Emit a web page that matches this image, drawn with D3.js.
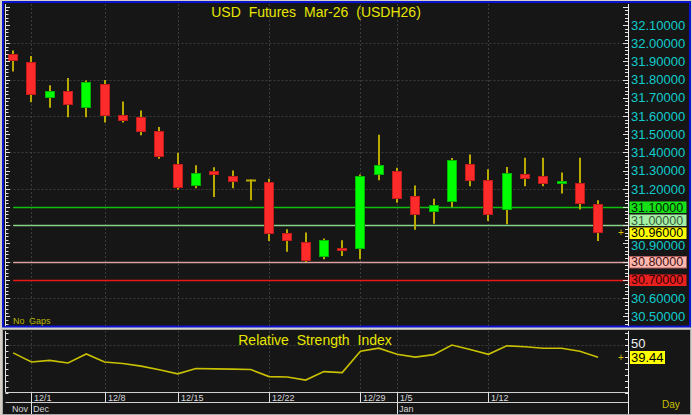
<!DOCTYPE html>
<html><head><meta charset="utf-8">
<script src="https://cdn.jsdelivr.net/npm/d3@7/dist/d3.min.js"></script>
<style>
html,body{margin:0;padding:0;background:#d4d0c8;}
svg{display:block;font-family:"Liberation Sans",Arial,sans-serif;}
</style></head><body>
<svg id="c" width="692" height="415"></svg>
<script>
// ---- data ----
const dates = ["11/28","12/1","12/2","12/3","12/4","12/8","12/9","12/10","12/11","12/15","12/16","12/17","12/18","12/19","12/22","12/23","12/24","12/26","12/27","12/29","12/30","1/5","1/6","1/7","1/8","1/9","1/12","1/13","1/14","1/15","1/16","1/19","1/20"];
const opens  = [31.941,31.899,31.703,31.740,31.645,31.778,31.608,31.597,31.519,31.338,31.215,31.298,31.268,31.250,31.237,30.960,30.908,30.826,30.878,30.865,31.274,31.298,31.159,31.073,31.124,31.338,31.247,31.086,31.279,31.270,31.225,31.230,31.119];
const highs  = [31.959,31.930,31.769,31.809,31.795,31.798,31.679,31.630,31.539,31.398,31.329,31.319,31.301,31.252,31.256,30.978,30.960,30.927,30.918,31.279,31.497,31.316,31.219,31.146,31.369,31.389,31.307,31.320,31.371,31.371,31.290,31.371,31.137];
const lows   = [31.844,31.676,31.645,31.593,31.593,31.564,31.564,31.495,31.365,31.196,31.204,31.155,31.204,31.137,30.914,30.854,30.799,30.814,30.832,30.814,31.247,31.124,30.976,31.009,31.100,31.215,31.024,31.005,31.215,31.215,31.174,31.086,30.914];
const closes = [31.904,31.716,31.740,31.665,31.789,31.604,31.574,31.515,31.376,31.204,31.289,31.276,31.236,31.250,30.954,30.914,30.803,30.918,30.865,31.268,31.329,31.146,31.055,31.110,31.356,31.245,31.055,31.289,31.254,31.226,31.241,31.115,30.960];
const rsi    = [43.2,35.5,36.9,34.7,42.3,35.5,34.3,32.1,29.0,25.6,30.1,29.8,29.6,29.2,23.3,23.0,20.4,27.5,26.7,44.5,47.1,42.0,39.6,41.7,49.7,46.0,42.0,49.1,48.3,47.1,47.1,44.5,39.44];
const weekTicks = ["12/1","12/8","12/15","12/22","12/29","1/5","1/12"];
const monthStarts = [{date:"11/28",label:"Nov"},{date:"12/1",label:"Dec"},{date:"1/5",label:"Jan"}];
const priceTicks = [30.5,30.6,30.7,30.8,30.9,31.0,31.1,31.2,31.3,31.4,31.5,31.6,31.7,31.8,31.9,32.0,32.1];
const priceGrid = [30.6,30.8,31.0,31.2,31.4,31.6,31.8,32.0];
const levels = [
  {v:31.10, line:"#10c010", bg:"#18e018", fg:"#002000"},
  {v:31.00, line:"#88d088", bg:"#a4f0a4", fg:"#3a5a3a"},
  {v:30.80, line:"#d8a0a0", bg:"#ffb8b0", fg:"#401010", border:"#b06060"},
  {v:30.70, line:"#e81818", bg:"#e82020", fg:"#300000"}
];
const lastPrice = 30.96;
const title = "USD Futures Mar-26 (USDH26)";
const rsiTitle = "Relative Strength Index";

// ---- layout ----
const svg = d3.select("#c");
const PL = 5.5, PR = 628;        // plot x range
const MT = 4, MB = 326;          // main panel y
const RT = 331, RB = 392.5;      // rsi panel y

const x = d3.scaleBand().domain(dates).range([4, 4 + 33*18.28]).padding(0);
const cx = d => x(d) + x.bandwidth()/2;
const y = d3.scaleLinear().domain([30.447, 32.215]).range([MB, MT]);
const yr = d3.scaleLinear().domain([10, 61.5]).range([RB, RT]);

// panels
svg.append("rect").attr("x",0).attr("y",0).attr("width",692).attr("height",415).attr("fill","#d4d0c8");
svg.append("rect").attr("x",3).attr("y",2).attr("width",687).attr("height",324.5).attr("fill","#161616")
  .attr("stroke","#0a14d0").attr("stroke-width",2);
svg.append("rect").attr("x",2.5).attr("y",329.5).attr("width",688).attr("height",85).attr("fill","#161616")
  .attr("stroke","#a8a8a8").attr("stroke-width",1);

const dash = "2,2";
// grid main
svg.append("g").selectAll("line").data(priceGrid).join("line")
  .attr("x1",PL).attr("x2",PR).attr("y1",d=>Math.round(y(d))+0.5).attr("y2",d=>Math.round(y(d))+0.5)
  .attr("stroke","#3c3c3c").attr("stroke-dasharray",dash);
svg.append("g").selectAll("line").data(weekTicks).join("line")
  .attr("x1",d=>Math.round(cx(d))+0.5).attr("x2",d=>Math.round(cx(d))+0.5).attr("y1",MT).attr("y2",MB)
  .attr("stroke","#3c3c3c").attr("stroke-dasharray",dash);
// grid rsi
svg.append("g").selectAll("line").data(weekTicks).join("line")
  .attr("x1",d=>Math.round(cx(d))+0.5).attr("x2",d=>Math.round(cx(d))+0.5).attr("y1",RT).attr("y2",RB)
  .attr("stroke","#3c3c3c").attr("stroke-dasharray",dash);
svg.append("line").attr("x1",PL).attr("x2",PR).attr("y1",Math.round(yr(50))+0.5).attr("y2",Math.round(yr(50))+0.5)
  .attr("stroke","#3c3c3c").attr("stroke-dasharray",dash);

// level lines
svg.append("g").selectAll("line").data(levels).join("line")
  .attr("x1",cx(dates[0])).attr("x2",PR).attr("y1",d=>Math.round(y(d.v))+0.5).attr("y2",d=>Math.round(y(d.v))+0.5)
  .attr("stroke",d=>d.line).attr("stroke-width",1.5);

// titles
svg.append("text").attr("x",316).attr("y",17).attr("text-anchor","middle").attr("fill","#e6e600")
  .attr("font-size",14).attr("word-spacing",4).text(title);
svg.append("text").attr("x",315).attr("y",345).attr("text-anchor","middle").attr("fill","#e6e600")
  .attr("font-size",14).attr("word-spacing",4).text(rsiTitle);
svg.append("text").attr("x",13).attr("y",324).attr("fill","#b8b800").attr("font-size",9).attr("word-spacing",2).text("No Gaps");

// candles
const idx = d3.range(dates.length);
const wickColor = "#b8aa00";
const g = svg.append("g");
g.selectAll("line.w").data(idx).join("line").attr("class","w")
  .attr("x1",i=>Math.round(cx(dates[i]))).attr("x2",i=>Math.round(cx(dates[i])))
  .attr("y1",i=>y(highs[i])).attr("y2",i=>y(lows[i]))
  .attr("stroke",wickColor).attr("stroke-width",2);
const bw = 10;
g.selectAll("rect.b").data(idx.filter(i=>opens[i]!==closes[i])).join("rect").attr("class","b")
  .attr("x",i=>Math.round(cx(dates[i]))-bw/2+0.5)
  .attr("y",i=>Math.round(y(Math.max(opens[i],closes[i])))+0.5)
  .attr("width",bw-1)
  .attr("height",i=>Math.max(2,Math.round(Math.abs(y(opens[i])-y(closes[i])))-1))
  .attr("fill",i=>closes[i]>opens[i]?"#00ff00":"#ff2a2a")
  .attr("stroke",i=>closes[i]>opens[i]?"#00b400":"#c01c1c").attr("stroke-width",1);
g.selectAll("line.d").data(idx.filter(i=>opens[i]===closes[i])).join("line").attr("class","d")
  .attr("x1",i=>Math.round(cx(dates[i]))-bw/2).attr("x2",i=>Math.round(cx(dates[i]))+bw/2)
  .attr("y1",i=>Math.round(y(opens[i]))+0.5).attr("y2",i=>Math.round(y(opens[i]))+0.5)
  .attr("stroke",wickColor).attr("stroke-width",2);

// rsi line
svg.append("path").datum(idx).attr("fill","none").attr("stroke","#c8c000").attr("stroke-width",1.6)
  .attr("d",d3.line().x(i=>cx(dates[i])).y(i=>yr(rsi[i])));

// left axes (ticks only)
const minorMain = d3.range(30.46, 32.21, 0.02);
svg.append("line").attr("x1",PL).attr("x2",PL).attr("y1",MT).attr("y2",MB).attr("stroke","#e0e0e0");
svg.append("g").selectAll("line").data(minorMain).join("line")
  .attr("x1",PL).attr("x2",d=>PL+ (Math.abs(d*10-Math.round(d*10))<0.01?4.5:3))
  .attr("y1",d=>Math.round(y(d))+0.5).attr("y2",d=>Math.round(y(d))+0.5).attr("stroke","#e0e0e0");
const rsiTicks = d3.range(10, 62, 5);
svg.append("line").attr("x1",PL).attr("x2",PL).attr("y1",RT).attr("y2",RB).attr("stroke","#e0e0e0");
svg.append("g").selectAll("line").data(rsiTicks).join("line")
  .attr("x1",PL).attr("x2",PL+3).attr("y1",d=>Math.round(yr(d))+0.5).attr("y2",d=>Math.round(yr(d))+0.5).attr("stroke","#e0e0e0");

// right price axis
const lastY = y(lastPrice);
svg.append("line").attr("x1",PR+0.5).attr("x2",PR+0.5).attr("y1",MT).attr("y2",MB).attr("stroke","#f0f0f0");
svg.append("g").selectAll("line").data(minorMain).join("line")
  .attr("x1",PR).attr("x2",d=>PR-(Math.abs(d*10-Math.round(d*10))<0.01?5:3))
  .attr("y1",d=>Math.round(y(d))+0.5).attr("y2",d=>Math.round(y(d))+0.5).attr("stroke","#e0e0e0");
const levelVals = levels.map(l=>l.v);
const sep = 12.5;
const placeY = v => { let yy = y(v); if (Math.abs(yy-lastY) < sep) yy = yy < lastY ? lastY - sep : lastY + sep; return yy; };
svg.append("g").selectAll("text").data(priceTicks.filter(t=>!levelVals.some(v=>Math.abs(v-t)<1e-6))).join("text")
  .attr("x",631).attr("y",d=>placeY(d)).attr("dy","0.36em").attr("fill","#10cccc").attr("font-size",13)
  .text(d=>d.toFixed(5));
// level labels with simple collision avoidance against last price label
const labs = levels.map(l=>Object.assign({}, l, {yy: placeY(l.v)}));
const lg = svg.append("g").selectAll("g").data(labs).join("g");
lg.append("rect").attr("x",629.5).attr("y",d=>Math.round(d.yy)-5.5).attr("width",57).attr("height",11.5)
  .attr("fill",d=>d.bg).attr("stroke",d=>d.border||"none");
lg.append("text").attr("x",631).attr("y",d=>d.yy).attr("dy","0.36em").attr("fill",d=>d.fg).attr("font-size",12.5)
  .text(d=>d.v.toFixed(5));
svg.append("rect").attr("x",629.5).attr("y",Math.round(lastY)-5.5).attr("width",57).attr("height",11.5).attr("fill","#ffff00");
svg.append("text").attr("x",631).attr("y",lastY).attr("dy","0.36em").attr("fill","#000").attr("font-size",12.5).text(lastPrice.toFixed(5));
svg.append("text").attr("x",621).attr("y",lastY).attr("dy","0.36em").attr("text-anchor","middle").attr("fill","#d0c000").attr("font-size",10).text("+");

// right rsi axis
svg.append("line").attr("x1",PR+0.5).attr("x2",PR+0.5).attr("y1",RT).attr("y2",414).attr("stroke","#f0f0f0");
svg.append("g").selectAll("line").data(rsiTicks).join("line")
  .attr("x1",PR).attr("x2",PR-3).attr("y1",d=>Math.round(yr(d))+0.5).attr("y2",d=>Math.round(yr(d))+0.5).attr("stroke","#e0e0e0");
svg.append("text").attr("x",631).attr("y",yr(50)-1).attr("dy","0.36em").attr("fill","#f0f0f0").attr("font-size",13).text("50");
const lastR = rsi[rsi.length-1];
svg.append("rect").attr("x",630).attr("y",Math.round(yr(lastR))-6).attr("width",35).attr("height",13).attr("fill","#ffff00");
svg.append("text").attr("x",631).attr("y",yr(lastR)).attr("dy","0.36em").attr("fill","#000").attr("font-size",13).text(lastR.toFixed(2));
svg.append("text").attr("x",621).attr("y",yr(lastR)).attr("dy","0.36em").attr("text-anchor","middle").attr("fill","#d0c000").attr("font-size",10).text("+");

// date axis
svg.append("line").attr("x1",PL).attr("x2",PR).attr("y1",RB).attr("y2",RB).attr("stroke","#d0d0d0");
svg.append("line").attr("x1",PL).attr("x2",PR).attr("y1",402.5).attr("y2",402.5).attr("stroke","#d0d0d0");
svg.append("g").selectAll("line").data(weekTicks).join("line")
  .attr("x1",d=>Math.round(cx(d))+0.5).attr("x2",d=>Math.round(cx(d))+0.5).attr("y1",RB).attr("y2",402.5).attr("stroke","#e0e0e0");
svg.append("g").selectAll("text").data(weekTicks).join("text")
  .attr("x",d=>Math.round(cx(d))+3).attr("y",401).attr("fill","#d8d8d8").attr("font-size",9).text(d=>d);
const ms = monthStarts.slice(1);
svg.append("g").selectAll("line").data(ms).join("line")
  .attr("x1",d=>Math.round(cx(d.date))+0.5).attr("x2",d=>Math.round(cx(d.date))+0.5).attr("y1",402.5).attr("y2",414).attr("stroke","#e0e0e0");
svg.append("g").selectAll("text").data(monthStarts).join("text")
  .attr("x",(d,i)=> i===0 ? Math.round(cx(monthStarts[1].date))-3 : Math.round(cx(d.date))+2)
  .attr("text-anchor",(d,i)=> i===0 ? "end":"start")
  .attr("y",412).attr("fill","#d8d8d8").attr("font-size",9).text(d=>d.label);
svg.append("text").attr("x",662).attr("y",408).attr("fill","#c8c000").attr("font-size",10).text("Day");
</script></body></html>
